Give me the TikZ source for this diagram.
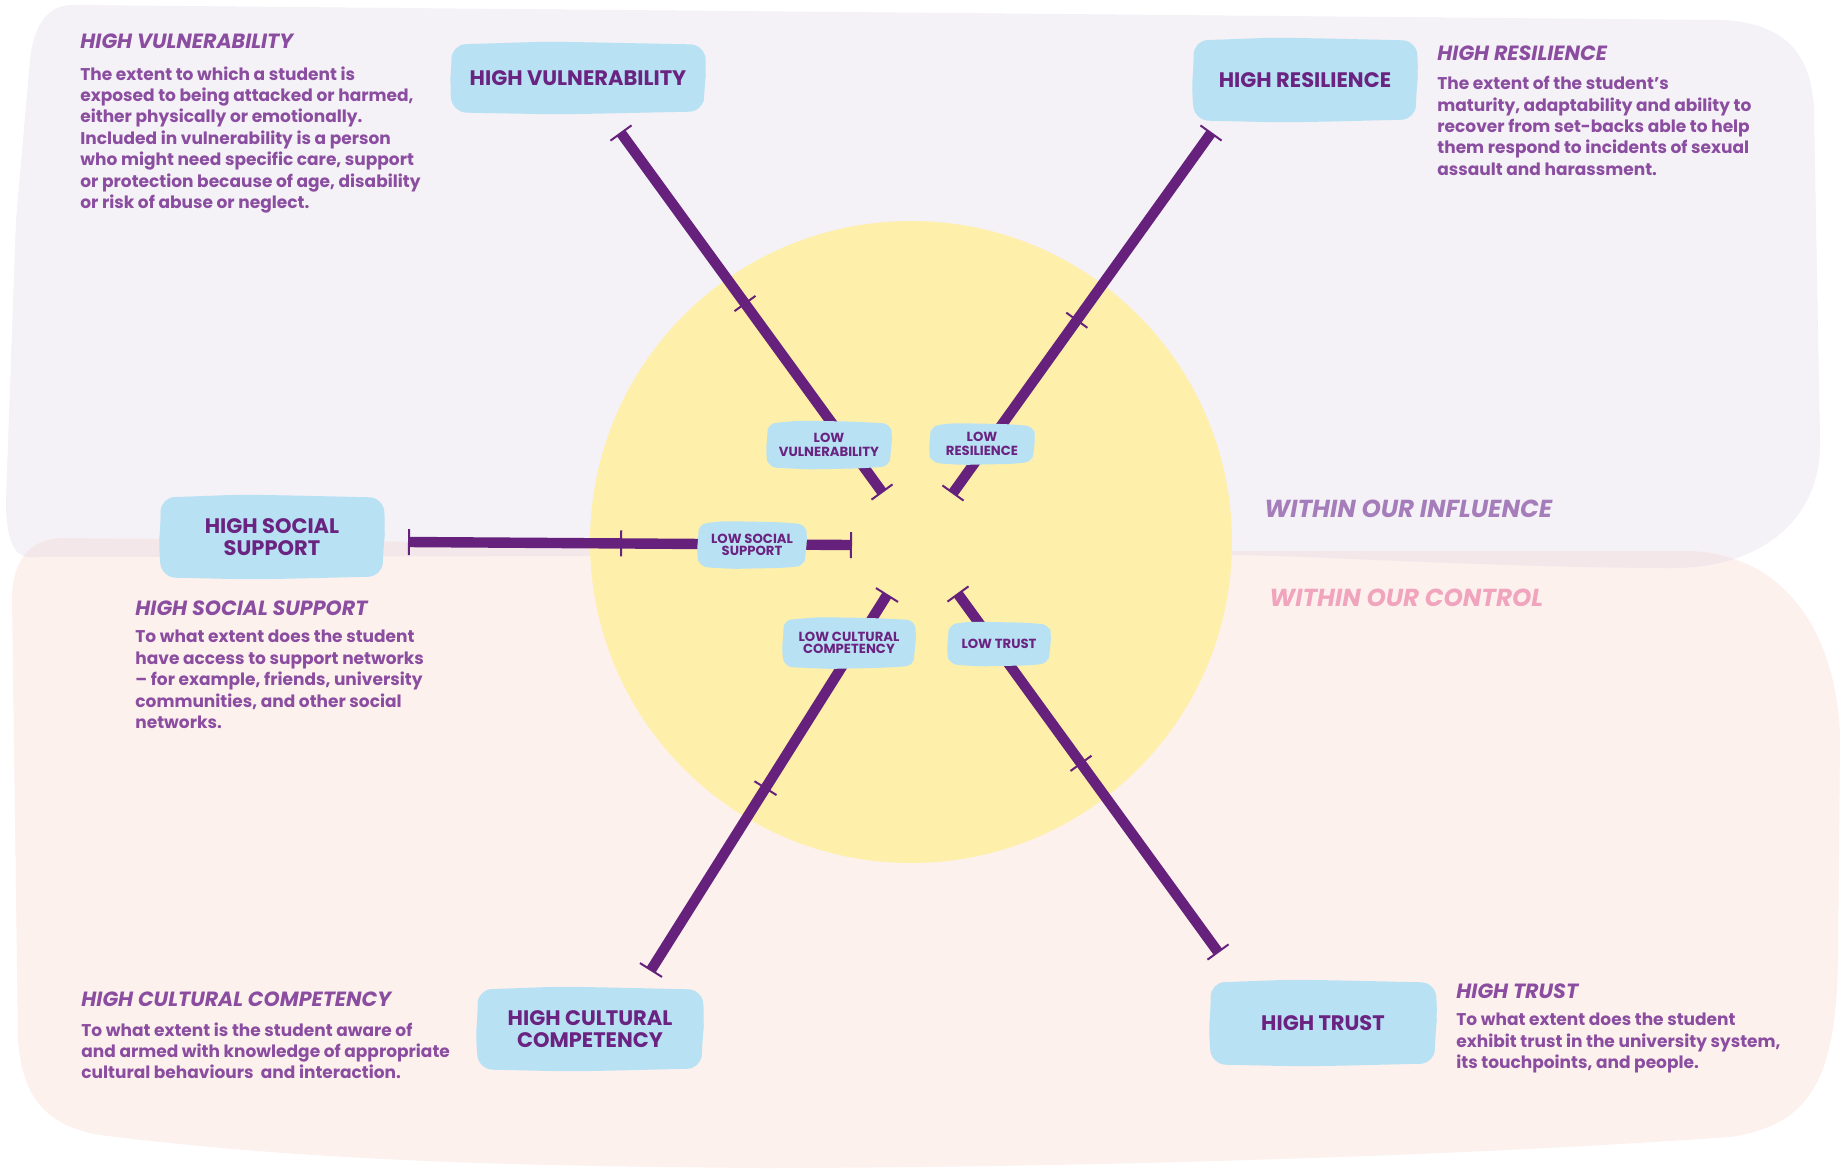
\documentclass[tikz,border=0pt]{standalone}
\usepackage{fontspec}
\setmainfont{Poppins}
\usetikzlibrary{calc}

\pgfdeclarelayer{paper}
\pgfdeclarelayer{strokes}
\pgfdeclarelayer{pads}
\pgfsetlayers{paper,strokes,pads,main}

\definecolor{lavender}{HTML}{F4F1F7}
\definecolor{peach}{HTML}{FDF1EE}
\definecolor{blend}{HTML}{F3E7EA}
\definecolor{sun}{HTML}{FEF0AB}
\definecolor{padblue}{HTML}{B8E1F4}
\definecolor{barpurple}{HTML}{65217C}
\definecolor{labelpurple}{HTML}{6A2380}
\definecolor{descpurple}{HTML}{8B4DA0}
\definecolor{influence}{HTML}{A57DBA}
\definecolor{control}{HTML}{F0A4BD}

\tikzset{
  x=0.5pt, y=-0.5pt,
  bigpad/.style={inner sep=0pt, align=center, text=labelpurple,
    font=\bfseries\fontsize{10.5}{11.2}\selectfont},
  smallpad/.style={inner sep=0pt, align=center, text=labelpurple,
    font=\bfseries\fontsize{6.6}{7}\selectfont},
  desctitle/.style={inner sep=0pt, anchor=base west, text=descpurple,
    font=\bfseries\itshape\fontsize{10.3}{12}\selectfont},
  descbody/.style={inner sep=0pt, anchor=north west, align=left, text=descpurple,
    font=\bfseries\fontsize{8.5}{10.7}\selectfont},
  zone/.style={inner sep=0pt, anchor=base west,
    font=\bfseries\itshape\fontsize{12.3}{14}\selectfont},
  bar/.style={draw=barpurple, line width=5.2pt},
  tick/.style={draw=barpurple, line width=1pt},
}

% hand-drawn looking fill behind a named label node
\newcommand\padfill[2]{%
  \begin{pgfonlayer}{pads}
  \fill[padblue, rounded corners=#2]
    ($(#1.north west)+(1,2)$) -- ($(#1.north)+(-30,-1)$) -- ($(#1.north)+(25,0)$)
    -- ($(#1.north east)+(-1,2)$) -- ($(#1.east)+(1,-8)$) -- ($(#1.east)+(-1,10)$)
    -- ($(#1.south east)+(-2,-2)$) -- ($(#1.south)+(30,0)$) -- ($(#1.south)+(-20,1)$)
    -- ($(#1.south west)+(2,-1)$) -- ($(#1.west)+(-1,8)$) -- ($(#1.west)+(1,-10)$) -- cycle;
  \end{pgfonlayer}}

% a thick scale bar with end ticks and a middle tick
\newcommand\gaugebar[3]{%
  \begin{pgfonlayer}{strokes}
  \draw[bar] (#1) -- (#2);
  \draw[tick] ($(#1)!6.5pt!90:(#2)$) -- ($(#1)!6.5pt!-90:(#2)$);
  \draw[tick] ($(#2)!6.5pt!90:(#1)$) -- ($(#2)!6.5pt!-90:(#1)$);
  \coordinate (#1-mid) at ($(#1)!#3!(#2)$);
  \draw[tick] ($(#1-mid)!6.5pt!90:(#2)$) -- ($(#1-mid)!6.5pt!-90:(#2)$);
  \end{pgfonlayer}}

\begin{document}
\begin{tikzpicture}
\useasboundingbox (0,0) rectangle (1843,1169);

\begin{pgfonlayer}{paper}
  \fill[white] (0,0) rectangle (1843,1169);
  % upper zone
  \def\upperzone{(72,5) -- (1720,20) .. controls (1790,22) and (1812,60) .. (1814,110)
    -- (1820,440) .. controls (1822,520) and (1760,568) .. (1673,568)
    .. controls (1500,568) and (1300,555) .. (1231,555) -- (30,557)
    .. controls (14,557) and (6,540) .. (6,500) -- (16,220) -- (30,60)
    .. controls (34,22) and (50,5) .. (72,5) -- cycle}
  % lower zone
  \def\lowerzone{(60,538) .. controls (300,540) and (900,548) .. (1230,551)
    -- (1690,551) .. controls (1790,555) and (1838,640) .. (1840,740)
    -- (1838,960) .. controls (1836,1080) and (1810,1125) .. (1730,1137)
    .. controls (1400,1160) and (1000,1168) .. (760,1168)
    .. controls (500,1166) and (300,1160) .. (100,1135)
    .. controls (40,1125) and (22,1090) .. (18,1040)
    -- (12,600) .. controls (12,560) and (30,540) .. (60,538) -- cycle}
  \fill[lavender] \upperzone;
  \fill[peach] \lowerzone;
  \begin{scope}
    \clip \upperzone;
    \fill[blend] \lowerzone;
  \end{scope}
  % centre disc
  \fill[sun] (911,542) circle[radius=321];
\end{pgfonlayer}

% zone captions
\node[zone, text=influence] (influ) at (1264,517) {WITHIN OUR INFLUENCE};
\node[zone, text=control] (contr) at (1269,606) {WITHIN OUR CONTROL};

% high ends
\node[bigpad, minimum width=127pt, minimum height=35pt] (hv) at (578,78) {HIGH VULNERABILITY};
\node[bigpad, minimum width=112pt, minimum height=41pt] (hr) at (1305,80) {HIGH RESILIENCE};
\node[bigpad, minimum width=112pt, minimum height=41pt] (hs) at (272,537) {HIGH SOCIAL\\SUPPORT};
\node[bigpad, minimum width=113pt, minimum height=41pt] (hc) at (590,1029) {HIGH CULTURAL\\COMPETENCY};
\node[bigpad, minimum width=113pt, minimum height=42pt] (ht) at (1323,1023) {HIGH TRUST};
\padfill{hv}{7pt}\padfill{hr}{7pt}\padfill{hs}{7pt}\padfill{hc}{7pt}\padfill{ht}{7pt}

% low ends
\node[smallpad, minimum width=62pt, minimum height=23pt] (lv) at (829,445) {LOW\\VULNERABILITY};
\node[smallpad, minimum width=52pt, minimum height=19.5pt] (lr) at (982,444) {LOW\\RESILIENCE};
\node[smallpad, minimum width=54pt, minimum height=22.5pt] (ls) at (752,545) {LOW SOCIAL\\[-1.1pt]SUPPORT};
\node[smallpad, minimum width=66pt, minimum height=24.5pt] (lc) at (849,643) {LOW CULTURAL\\[-1.1pt]COMPETENCY};
\node[smallpad, minimum width=51pt, minimum height=21pt] (lt) at (999,644) {LOW TRUST};
\padfill{lv}{4pt}\padfill{lr}{4pt}\padfill{ls}{4pt}\padfill{lc}{4pt}\padfill{lt}{4pt}

% scale bars
\coordinate (vo) at (621,133);  \coordinate (vi) at (882,492);
\coordinate (ro) at (1211,133); \coordinate (ri) at (953,493);
\coordinate (so) at (409,542);  \coordinate (si) at (851,545);
\coordinate (co) at (651,970);  \coordinate (ci) at (887,595);
\coordinate (to) at (1218,952); \coordinate (ti) at (958,594);
\gaugebar{vo}{vi}{0.475}
\gaugebar{ro}{ri}{0.52}
\gaugebar{so}{si}{0.48}
\gaugebar{co}{ci}{0.485}
\gaugebar{to}{ti}{0.527}

% descriptions
\node[desctitle] (dvt) at (80,48) {HIGH VULNERABILITY};
\node[descbody] (dvb) at (80,66) {The extent to which a student is\\exposed to being attacked or harmed,\\either physically or emotionally.\\Included in vulnerability is a person\\who might need specific care, support\\or protection because of age, disability\\or risk of abuse or neglect.};

\node[desctitle] (drt) at (1437,60) {HIGH RESILIENCE};
\node[descbody] (drb) at (1437,76) {The extent of the student’s\\maturity, adaptability and ability to\\recover from set-backs able to help\\them respond to incidents of sexual\\assault and harassment.};

\node[desctitle] (dst) at (135,615) {HIGH SOCIAL SUPPORT};
\node[descbody] (dsb) at (135,630) {To what extent does the student\\have access to support networks\\– for example, friends, university\\communities, and other social\\networks.};

\node[desctitle] (dct) at (81,1006) {HIGH CULTURAL COMPETENCY};
\node[descbody] (dcb) at (81,1022) {To what extent is the student aware of\\and armed with knowledge of appropriate\\cultural behaviours\ \ and interaction.};

\node[desctitle] (dtt) at (1456,998) {HIGH TRUST};
\node[descbody] (dtb) at (1456,1013) {To what extent does the student\\exhibit trust in the university system,\\its touchpoints, and people.};
\end{tikzpicture}
\end{document}
